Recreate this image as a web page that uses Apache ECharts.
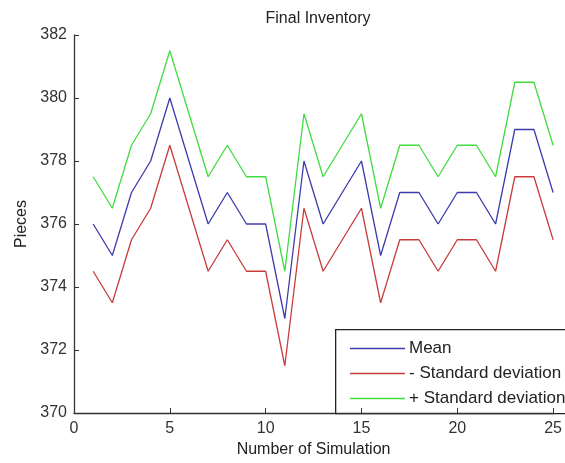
<!DOCTYPE html>
<html>
<head>
<meta charset="utf-8">
<script src="https://cdn.jsdelivr.net/npm/echarts@6/dist/echarts.min.js"></script>
<style>
html,body{margin:0;padding:0;background:#fff;}
#c{width:565px;height:463px;}
</style>
</head>
<body>
<div id="c"></div>
<script>
var simulations = [1,2,3,4,5,6,7,8,9,10,11,12,13,14,15,16,17,18,19,20,21,22,23,24,25];
var meanValues  = [376,375,377,378,380,378,376,377,376,376,373,378,376,377,378,375,377,377,376,377,377,376,379,379,377];
var minusStd    = [374.5,373.5,375.5,376.5,378.5,376.5,374.5,375.5,374.5,374.5,371.5,376.5,374.5,375.5,376.5,373.5,375.5,375.5,374.5,375.5,375.5,374.5,377.5,377.5,375.5];
var plusStd     = [377.5,376.5,378.5,379.5,381.5,379.5,377.5,378.5,377.5,377.5,374.5,379.5,377.5,378.5,379.5,376.5,378.5,378.5,377.5,378.5,378.5,377.5,380.5,380.5,378.5];
var seriesNames = ['Mean','- Standard deviation','+ Standard deviation'];
var seriesColors = ['#3c3cae','#c83c3c','#40dc40'];

function pairs(vals){ return simulations.map(function(x,i){ return [x, vals[i]]; }); }
var allVals = [meanValues, minusStd, plusStd];

var FONT = '"Liberation Sans", Arial, sans-serif';
var chart = echarts.init(document.getElementById('c'), null, {renderer:'canvas'});
var option = {
  backgroundColor:'#ffffff',
  animation:false,
  title:{
    text:'Final Inventory', left:313, top:6, textAlign:'center',
    textStyle:{fontFamily:FONT, fontSize:16, fontWeight:'normal', color:'#222'}
  },
  grid:{left:74, right:11, top:35, bottom:50, containLabel:false},
  xAxis:{
    type:'value', min:0, max:25, interval:5,
    name:'Number of Simulation', nameLocation:'middle', nameGap:29,
    nameTextStyle:{fontFamily:FONT, fontSize:16, color:'#222'},
    axisLine:{show:true, onZero:false, lineStyle:{color:'#333', width:1.3}},
    axisTick:{show:true, inside:true, length:5, lineStyle:{color:'#333'}},
    axisLabel:{fontFamily:FONT, fontSize:16, color:'#333', margin:8},
    splitLine:{show:false}
  },
  yAxis:{
    type:'value', min:370, max:382, interval:2,
    name:'Pieces', nameLocation:'middle', nameGap:44, nameRotate:90,
    nameTextStyle:{fontFamily:FONT, fontSize:16, color:'#222'},
    axisLine:{show:true, onZero:false, lineStyle:{color:'#333', width:1.3}},
    axisTick:{show:true, inside:true, length:5, lineStyle:{color:'#333'}},
    axisLabel:{fontFamily:FONT, fontSize:16, color:'#333', margin:7},
    splitLine:{show:false}
  },
  legend:{
    left:345, top:334, orient:'vertical', itemGap:6,
    itemWidth:55, itemHeight:1.4,
    icon:'rect',
    textStyle:{fontFamily:FONT, fontSize:17, color:'#222', lineHeight:19, padding:[0,0,0,-1]},
    data:seriesNames.map(function(n,i){ return {name:n, itemStyle:{color:seriesColors[i]}}; })
  },
  graphic:[{
    type:'rect', left:335, top:329, z:0,
    shape:{x:0, y:0, width:240, height:84},
    style:{fill:'#ffffff', stroke:'#222', lineWidth:1.3}
  }],
  series: allVals.map(function(vals,i){
    return {
      name:seriesNames[i], type:'line', data:pairs(vals),
      symbol:'none', z:2,
      lineStyle:{color:seriesColors[i], width:1.3},
      itemStyle:{color:seriesColors[i]}
    };
  })
};
chart.setOption(option);
</script>
</body>
</html>
